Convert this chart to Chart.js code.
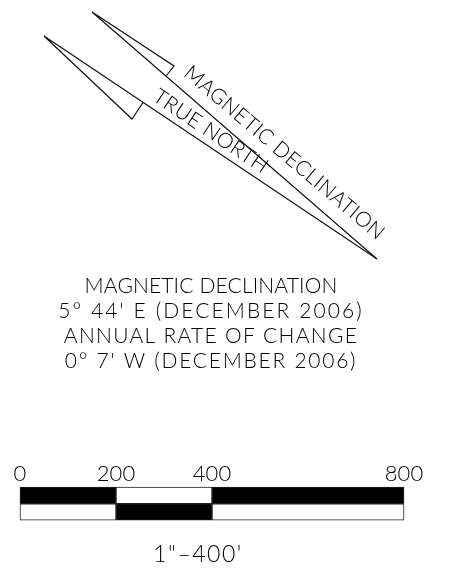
<!DOCTYPE html>
<html><head><meta charset="utf-8">
<style>html,body{margin:0;padding:0;background:#fff}canvas{display:block}</style>
<script src="https://cdn.jsdelivr.net/npm/chart.js@4"></script>
</head><body><canvas id="c" width="457" height="571"></canvas>
<script>
// Drawing-space polylines (sheet units)
const trueNorthX = [377, 44, 132, 143];
const trueNorthY = [259, 36, 119, 102.5];
const magneticX = [377, 92, 174, 166];
const magneticY = [259, 12, 66, 76];
// Scale bar (feet)
const scaleTicks = [0, 200, 400, 800];
const segmentStart = [0, 200, 400];
const segmentEnd = [200, 400, 800];
const topRowColors = ['#000', '#fff', '#000'];
const bottomRowColors = ['#fff', '#000', '#fff'];
const rowCenters = [495.3, 512];
// Text
const noteLines = ['MAGNETIC DECLINATION', "5° 44' E (DECEMBER 2006)", 'ANNUAL RATE OF CHANGE', "0° 7' W (DECEMBER 2006)"];
const noteBaselines = [293, 318, 343, 368];
const noteSpacing = [0.15, 2.1, 1.3, 1.75];
const scaleNote = '1"\u2013400\'';
const FONT = 'Lato';

const toPts = (xs, ys) => xs.map((x, i) => ({x, y: ys[i]}));
const lineDs = (xs, ys) => ({type:'scatter', showLine:true, data:toPts(xs, ys), borderColor:'#111', borderWidth:1.2, pointRadius:0, fill:false, tension:0, xAxisID:'x', yAxisID:'y'});
const barDs = (row, colors) => segmentStart.map((s, i) => ({
  type:'bar', indexAxis:'y', data:[{x:[s, segmentEnd[i]], y:rowCenters[row]}], xAxisID:'feet', yAxisID:'y',
  backgroundColor:colors[i], borderColor:'#222', borderWidth:1, borderSkipped:false, barThickness:16.5, grouped:false
}));
const hair = (a, b, row) => ({type:'scatter', showLine:true, xAxisID:'feet', yAxisID:'y', pointRadius:0, borderColor:'rgba(255,255,255,.45)', borderWidth:.7,
  data:[{x:a, y:rowCenters[row]-8}, {x:b, y:rowCenters[row]+8}]});

const labelsPlugin = {
  id:'labels',
  afterDraw(chart){
    const {ctx, scales:{x, y}} = chart;
    ctx.save();
    ctx.fillStyle = '#000';
    ctx.textAlign = 'center';
    ctx.textBaseline = 'alphabetic';
    ctx.font = '300 21px ' + FONT;
    noteLines.forEach((t, i) => {
      ctx.letterSpacing = noteSpacing[i] + 'px';
      ctx.fillText(t, x.getPixelForValue(211), y.getPixelForValue(noteBaselines[i]));
    });
    const rot = (t, cx, cy, deg, sp) => {
      ctx.save();
      ctx.translate(x.getPixelForValue(cx), y.getPixelForValue(cy));
      ctx.rotate(deg * Math.PI / 180);
      ctx.letterSpacing = sp + 'px';
      ctx.fillText(t, 0, 0);
      ctx.restore();
    };
    rot('MAGNETIC DECLINATION', 280, 158, 40.4, 0.3);
    rot('TRUE NORTH', 207, 137, 33.8, 0.3);
    ctx.font = '300 23px ' + FONT;
    ctx.letterSpacing = '1.5px';
    ctx.fillText(scaleNote, x.getPixelForValue(198), y.getPixelForValue(562));
    ctx.restore();
  }
};

new Chart(document.getElementById('c'), {
  type:'scatter',
  data:{datasets:[
    lineDs(trueNorthX, trueNorthY), lineDs(magneticX, magneticY),
    ...barDs(0, topRowColors), ...barDs(1, bottomRowColors),
    hair(0, 200, 0), hair(400, 800, 0), hair(200, 400, 1)
  ]},
  options:{
    responsive:false, animation:false, devicePixelRatio:1,
    layout:{padding:0},
    plugins:{legend:{display:false}, tooltip:{enabled:false}, title:{display:false}},
    scales:{
      x:{type:'linear', display:false, min:0, max:457, offset:false},
      y:{type:'linear', display:false, min:0, max:571, reverse:true, offset:false},
      feet:{type:'linear', axis:'x', min:-41.67, max:910.42, offset:false, position:{y:461},
        afterBuildTicks(s){ s.ticks = scaleTicks.map(v => ({value:v})); },
        afterFit(s){ s.height = 0; },
        grid:{display:false, drawTicks:false}, border:{display:false},
        ticks:{autoSkip:false, maxRotation:0, color:'#000', padding:0, font:{family:FONT, size:22, weight:'300'}}}
    }
  },
  plugins:[labelsPlugin]
});
</script></body></html>
